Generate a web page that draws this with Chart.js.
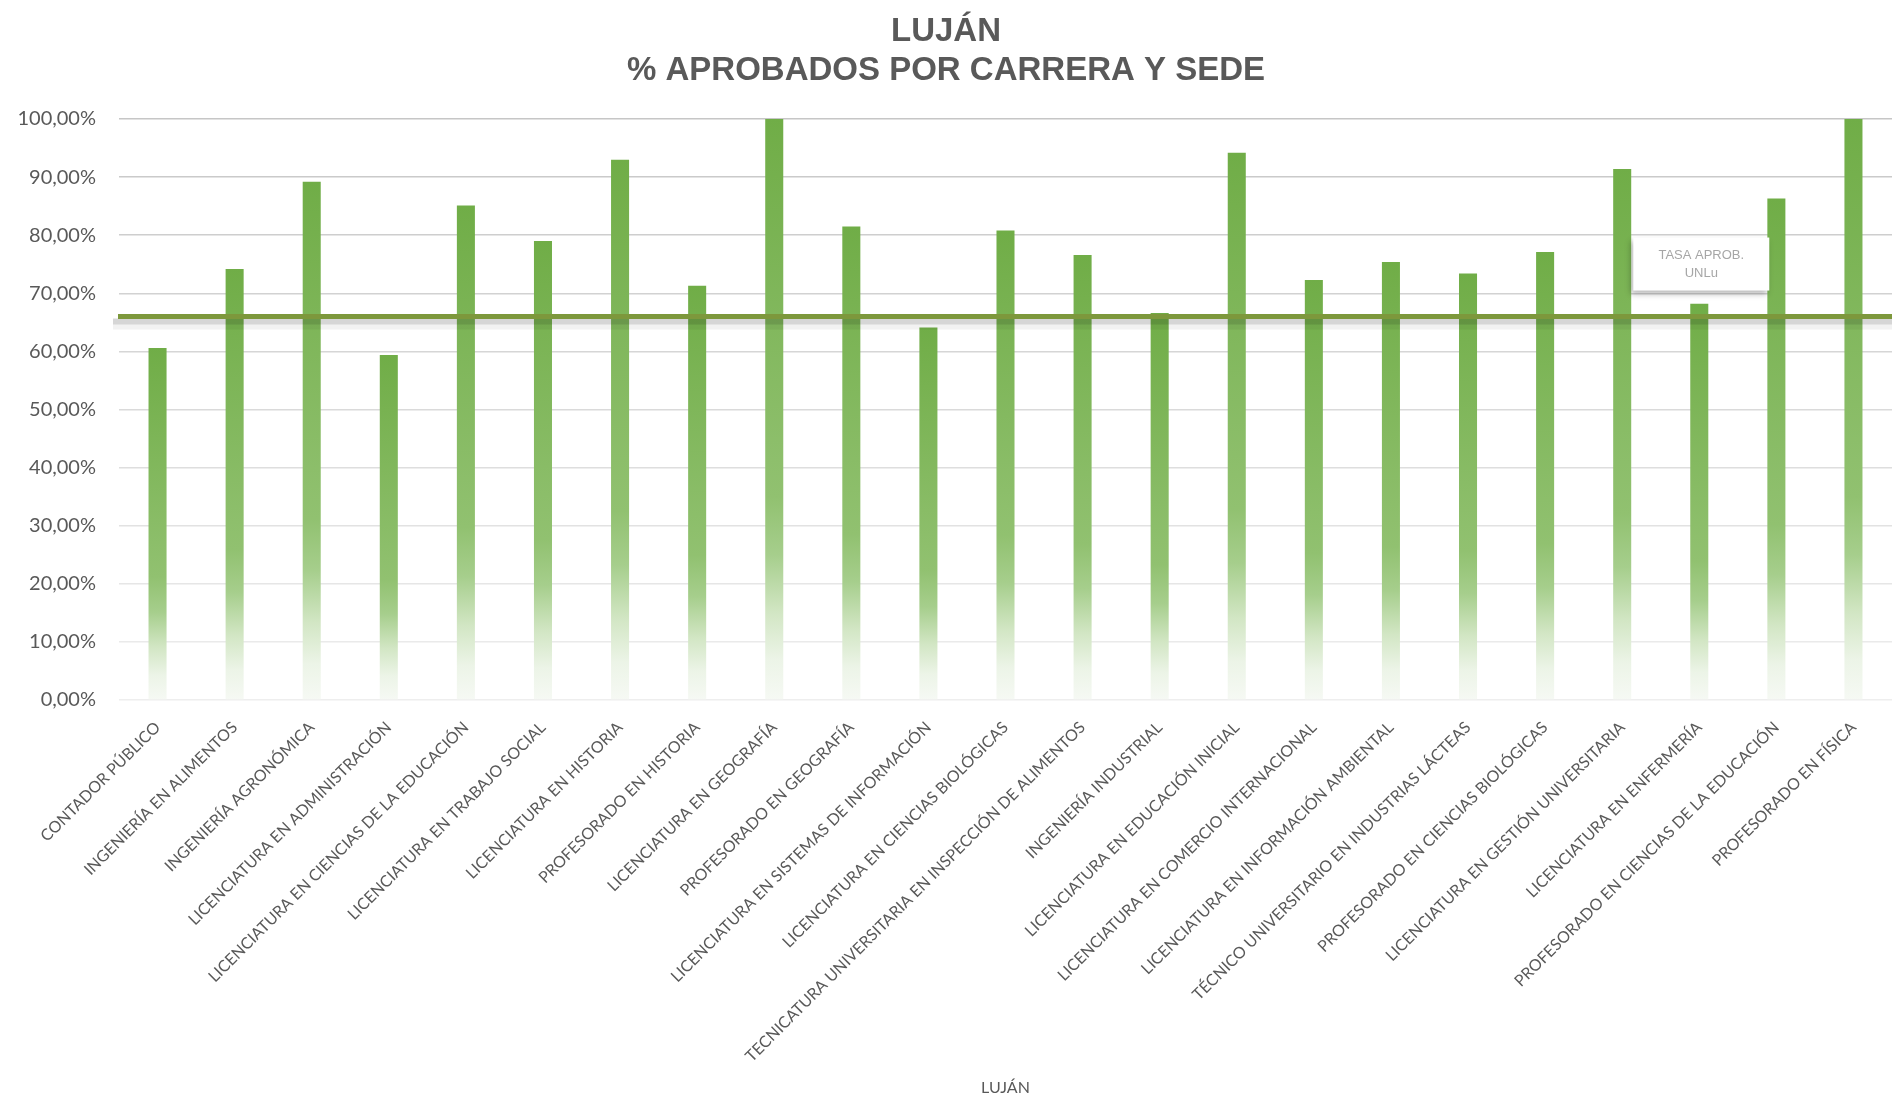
<!DOCTYPE html>
<html>
<head>
<meta charset="utf-8">
<script src="https://cdn.jsdelivr.net/npm/chart.js@4.4.1/dist/chart.umd.min.js"></script>
<style>
  html, body { margin: 0; padding: 0; background: #fff; }
  #wrap { width: 1892px; height: 1097px; position: relative; }
</style>
</head>
<body>
<div id="wrap"><canvas id="chart"></canvas></div>
<script>
// carreras de la sede Luján
var carreras = [
    "CONTADOR PÚBLICO",
    "INGENIERÍA EN ALIMENTOS",
    "INGENIERÍA AGRONÓMICA",
    "LICENCIATURA EN ADMINISTRACIÓN",
    "LICENCIATURA EN CIENCIAS DE LA EDUCACIÓN",
    "LICENCIATURA EN TRABAJO SOCIAL",
    "LICENCIATURA EN HISTORIA",
    "PROFESORADO EN HISTORIA",
    "LICENCIATURA EN GEOGRAFÍA",
    "PROFESORADO EN GEOGRAFÍA",
    "LICENCIATURA EN SISTEMAS DE INFORMACIÓN",
    "LICENCIATURA EN CIENCIAS BIOLÓGICAS",
    "TECNICATURA UNIVERSITARIA EN INSPECCIÓN DE ALIMENTOS",
    "INGENIERÍA INDUSTRIAL",
    "LICENCIATURA EN EDUCACIÓN INICIAL",
    "LICENCIATURA EN COMERCIO INTERNACIONAL",
    "LICENCIATURA EN INFORMACIÓN AMBIENTAL",
    "TÉCNICO UNIVERSITARIO EN INDUSTRIAS LÁCTEAS",
    "PROFESORADO EN CIENCIAS BIOLÓGICAS",
    "LICENCIATURA EN GESTIÓN UNIVERSITARIA",
    "LICENCIATURA EN ENFERMERÍA",
    "PROFESORADO EN CIENCIAS DE LA EDUCACIÓN",
    "PROFESORADO EN FÍSICA"
]

var aprobados = [0.606, 0.742, 0.892, 0.594, 0.851, 0.790, 0.930, 0.713, 1.000, 0.815, 0.641, 0.808,
                 0.766, 0.666, 0.942, 0.723, 0.754, 0.734, 0.771, 0.914, 0.682, 0.863, 1.000]

// tasa de aprobacion de toda la universidad
var tasaUNLu = 0.66
var tasaLabel = ["TASA APROB.", "UNLu"]
var tasaLabelIndex = 20

var tituloChart = ["LUJÁN", "% APROBADOS POR CARRERA Y SEDE"]
var tituloEje = "LUJÁN"

function degradeBarra(context) {
    var chart = context.chart
    if (!chart.chartArea) return '#70AD47'
    var y = chart.scales.y
    var top = y.getPixelForValue(context.raw)
    var bottom = y.getPixelForValue(0)
    var g = chart.ctx.createLinearGradient(0, top, 0, bottom)
    g.addColorStop(0, 'rgb(112,173,71)')
    g.addColorStop(0.65, 'rgb(145,193,112)')
    g.addColorStop(0.75, 'rgb(166,206,140)')
    g.addColorStop(0.85, 'rgb(210,230,196)')
    g.addColorStop(0.93, 'rgb(236,244,231)')
    g.addColorStop(1, 'rgb(246,249,244)')
    return g
}

// linea de la tasa UNLu + su etiqueta
var lineaTasa = {
    id: 'lineaTasa',
    afterDatasetsDraw: function (chart) {
        var c = chart.ctx
        var area = chart.chartArea
        var y = chart.scales.y.getPixelForValue(tasaUNLu)
        c.save()
        c.fillStyle = 'rgba(0,0,0,0.16)'
        c.fillRect(area.left - 6, y + 2, area.right - area.left + 6, 6)
        c.fillStyle = 'rgba(0,0,0,0.05)'
        c.fillRect(area.left - 6, y + 8, area.right - area.left + 6, 5)
        c.strokeStyle = 'rgb(125,152,60)'
        c.lineWidth = 5
        c.beginPath()
        c.moveTo(area.left - 1, y)
        c.lineTo(area.right, y)
        c.stroke()

        var px = chart.scales.x.getPixelForValue(tasaLabelIndex)
        var w = 136, h = 53
        var bx = px - w / 2 + 2
        var by = y - 79
        c.shadowColor = 'rgba(0,0,0,0.28)'
        c.shadowBlur = 6
        c.shadowOffsetX = -2
        c.shadowOffsetY = 3
        c.fillStyle = '#ffffff'
        c.fillRect(bx, by, w, h)
        c.shadowColor = 'transparent'
        c.fillStyle = '#A6A6A6'
        c.font = '13px "Liberation Sans", Arial, sans-serif'
        c.textAlign = 'center'
        c.textBaseline = 'middle'
        c.fillText(tasaLabel[0], bx + w / 2, by + 18)
        c.fillText(tasaLabel[1], bx + w / 2, by + 36)
        c.restore()
    }
}

var ctx = document.getElementById('chart')

var ChartGraph = new Chart(ctx, {
    type: 'bar',
    data: {
        labels: carreras,
        datasets: [
            {
                label: "% Aprobados",
                data: aprobados,
                backgroundColor: degradeBarra,
                borderWidth: 0,
                barPercentage: 0.234,
                categoryPercentage: 1
            }
        ]
    },
    options: {
        responsive: true,
        maintainAspectRatio: false,
        animation: false,
        layout: { padding: 0 },
        plugins: {
            legend: { display: false },
            tooltip: { enabled: false },
            title: {
                display: true,
                text: tituloChart,
                color: '#595959',
                font: { family: '"Liberation Sans", Arial, sans-serif', size: 33, weight: 'bold', lineHeight: '39px' },
                padding: { top: 12, bottom: 29 }
            }
        },
        scales: {
            x: {
                grid: { display: false },
                border: { display: false },
                ticks: {
                    autoSkip: false,
                    minRotation: 45,
                    maxRotation: 45,
                    padding: 10,
                    color: '#595959',
                    font: { family: 'Lato', size: 16 }
                },
                title: {
                    display: true,
                    text: tituloEje,
                    color: '#595959',
                    font: { family: 'Lato', size: 16 },
                    padding: { top: 0, bottom: 0 }
                },
                afterFit: function (scale) { scale.height = 397 }
            },
            y: {
                min: 0,
                max: 1,
                border: { display: false },
                grid: {
                    drawTicks: false,
                    lineWidth: 1.5,
                    color: function (c) {
                        var v = c.tick ? c.tick.value : 0
                        var k = Math.round(238 - 40 * v)
                        return 'rgb(' + k + ',' + k + ',' + k + ')'
                    }
                },
                ticks: {
                    stepSize: 0.1,
                    padding: 23,
                    color: '#595959',
                    font: { family: 'Lato', size: 20 },
                    callback: function (v) { return (v * 100).toFixed(2).replace('.', ',') + '%' }
                },
                afterFit: function (scale) { scale.width = 119 }
            }
        }
    },
    plugins: [lineaTasa]
})
</script>
</body>
</html>
